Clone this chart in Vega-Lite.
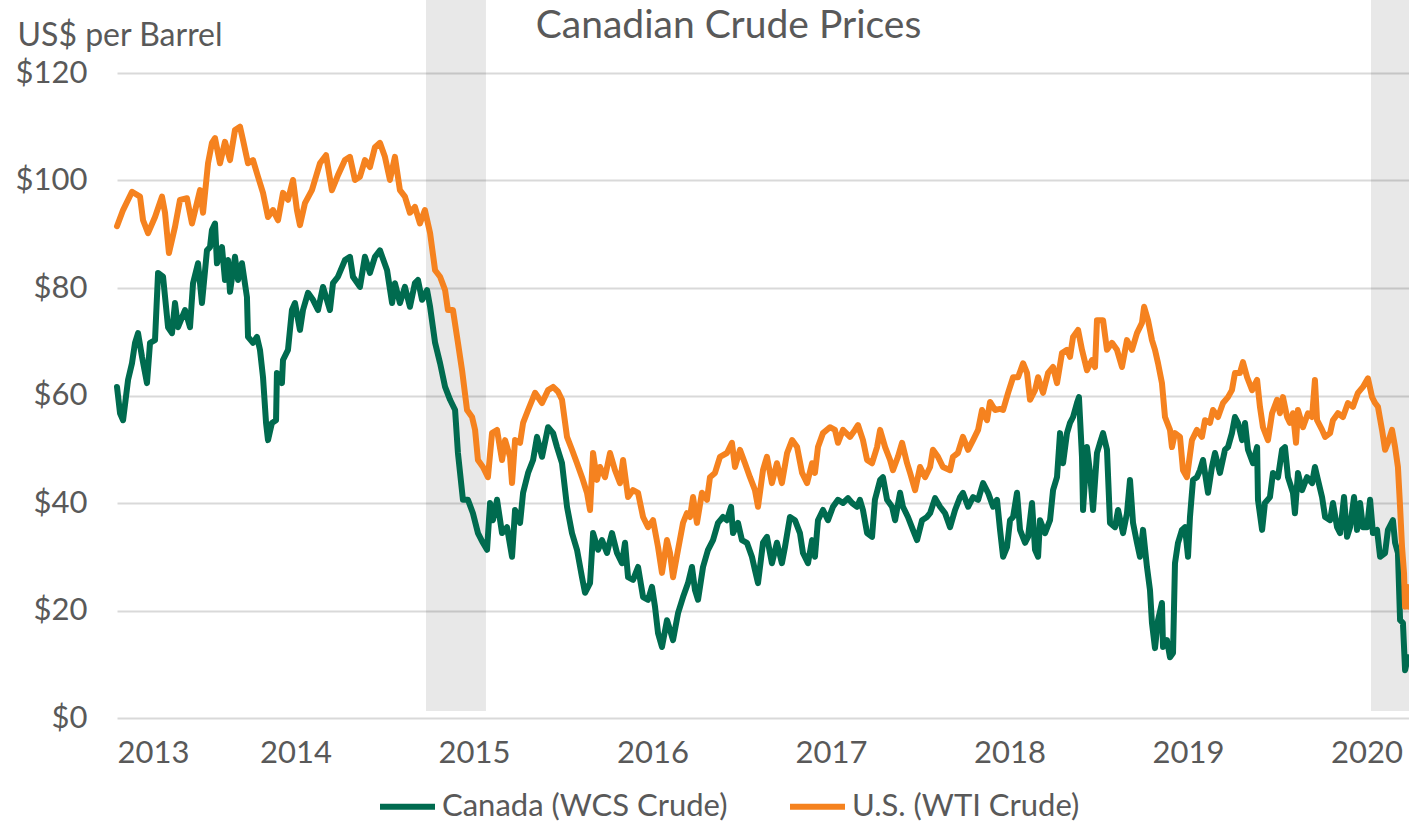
{
"$schema": "https://vega.github.io/schema/vega-lite/v6.json",
"width": 1292, "height": 645,
"autosize": {"type": "none"},
"padding": {"left": 117, "top": 73, "right": 0, "bottom": 107},
"background": "white",
"config": {"view": {"stroke": null}, "font": "Lato"},
"datasets": {
"bands": [{"start": 2014.731, "end": 2015.067}, {"start": 2020.025, "end": 2020.238}],
"wti": [
{"t":2013.000,"v":91.5},{"t":2013.034,"v":94.5},{"t":2013.084,"v":97.9},{"t":2013.129,"v":97},{"t":2013.146,"v":92.6},{"t":2013.174,"v":90.2},{"t":2013.213,"v":93.2},{"t":2013.252,"v":97},{"t":2013.269,"v":94},{"t":2013.291,"v":86.5},{"t":2013.325,"v":91.4},{"t":2013.353,"v":96.4},{"t":2013.392,"v":96.7},{"t":2013.420,"v":92},{"t":2013.465,"v":98.2},{"t":2013.482,"v":94},{"t":2013.510,"v":103.2},{"t":2013.532,"v":107},{"t":2013.549,"v":107.9},{"t":2013.577,"v":103.2},{"t":2013.605,"v":107.2},{"t":2013.633,"v":103.8},{"t":2013.661,"v":109.4},{"t":2013.689,"v":110},{"t":2013.706,"v":107.5},{"t":2013.734,"v":103.2},{"t":2013.762,"v":103.8},{"t":2013.790,"v":100.7},{"t":2013.818,"v":97.7},{"t":2013.846,"v":93.2},{"t":2013.874,"v":94.5},{"t":2013.902,"v":92.6},{"t":2013.930,"v":97.7},{"t":2013.958,"v":96.4},{"t":2013.986,"v":100.1},{"t":2014.008,"v":94.5},{"t":2014.025,"v":91.7},{"t":2014.053,"v":95.8},{"t":2014.092,"v":98.2},{"t":2014.137,"v":103.2},{"t":2014.171,"v":104.7},{"t":2014.204,"v":98.2},{"t":2014.238,"v":101},{"t":2014.277,"v":103.8},{"t":2014.305,"v":104.4},{"t":2014.333,"v":100.1},{"t":2014.361,"v":100.7},{"t":2014.389,"v":103.8},{"t":2014.417,"v":102.5},{"t":2014.445,"v":106.2},{"t":2014.473,"v":107},{"t":2014.501,"v":104.4},{"t":2014.529,"v":100.1},{"t":2014.557,"v":104.4},{"t":2014.585,"v":98.2},{"t":2014.613,"v":97},{"t":2014.641,"v":94},{"t":2014.669,"v":95.1},{"t":2014.697,"v":92},{"t":2014.725,"v":94.5},{"t":2014.754,"v":90.2},{"t":2014.782,"v":83.3},{"t":2014.810,"v":82.1},{"t":2014.838,"v":79.6},{"t":2014.854,"v":75.9},{"t":2014.882,"v":75.9},{"t":2014.910,"v":69.8},{"t":2014.933,"v":64.7},{"t":2014.961,"v":57.3},{"t":2014.989,"v":56},{"t":2015.006,"v":53.6},{"t":2015.022,"v":48},{"t":2015.050,"v":46.7},{"t":2015.078,"v":44.8},{"t":2015.101,"v":53},{"t":2015.129,"v":53.6},{"t":2015.157,"v":48},{"t":2015.174,"v":51.7},{"t":2015.202,"v":48.6},{"t":2015.213,"v":43.7},{"t":2015.230,"v":51.7},{"t":2015.258,"v":51.2},{"t":2015.275,"v":54.9},{"t":2015.303,"v":57.3},{"t":2015.342,"v":60.5},{"t":2015.381,"v":58.6},{"t":2015.415,"v":61},{"t":2015.443,"v":61.6},{"t":2015.471,"v":60.7},{"t":2015.493,"v":59.2},{"t":2015.521,"v":52.3},{"t":2015.549,"v":49.9},{"t":2015.577,"v":47.4},{"t":2015.605,"v":44.8},{"t":2015.633,"v":41.9},{"t":2015.650,"v":38.7},{"t":2015.667,"v":49.3},{"t":2015.689,"v":44.3},{"t":2015.706,"v":46.7},{"t":2015.734,"v":44.8},{"t":2015.762,"v":49.3},{"t":2015.790,"v":46.1},{"t":2015.818,"v":43.7},{"t":2015.835,"v":48},{"t":2015.863,"v":41.1},{"t":2015.891,"v":42.4},{"t":2015.919,"v":41.9},{"t":2015.947,"v":37.4},{"t":2015.975,"v":35.5},{"t":2016.003,"v":36.8},{"t":2016.031,"v":31.8},{"t":2016.053,"v":27},{"t":2016.081,"v":33.1},{"t":2016.098,"v":30.7},{"t":2016.115,"v":26.2},{"t":2016.143,"v":31.3},{"t":2016.171,"v":36.3},{"t":2016.193,"v":38.1},{"t":2016.210,"v":37.4},{"t":2016.227,"v":41.1},{"t":2016.249,"v":36.3},{"t":2016.277,"v":41.9},{"t":2016.305,"v":40.6},{"t":2016.322,"v":44.8},{"t":2016.350,"v":45.6},{"t":2016.378,"v":48.6},{"t":2016.417,"v":49.3},{"t":2016.445,"v":51.2},{"t":2016.462,"v":46.7},{"t":2016.490,"v":49.9},{"t":2016.518,"v":47.4},{"t":2016.546,"v":44.8},{"t":2016.574,"v":42.4},{"t":2016.591,"v":39.3},{"t":2016.619,"v":46.1},{"t":2016.641,"v":48.6},{"t":2016.669,"v":43.7},{"t":2016.697,"v":47.4},{"t":2016.725,"v":43.7},{"t":2016.754,"v":49.3},{"t":2016.782,"v":51.7},{"t":2016.810,"v":50.4},{"t":2016.838,"v":45.6},{"t":2016.866,"v":43.7},{"t":2016.894,"v":47.4},{"t":2016.910,"v":45.6},{"t":2016.927,"v":50.4},{"t":2016.955,"v":53},{"t":2016.994,"v":54.1},{"t":2017.022,"v":53.6},{"t":2017.039,"v":51.2},{"t":2017.067,"v":53.6},{"t":2017.106,"v":52.3},{"t":2017.134,"v":53.6},{"t":2017.151,"v":54.5},{"t":2017.179,"v":51.7},{"t":2017.202,"v":48},{"t":2017.230,"v":47.4},{"t":2017.258,"v":50.4},{"t":2017.275,"v":53.6},{"t":2017.303,"v":50.4},{"t":2017.331,"v":48},{"t":2017.347,"v":46.1},{"t":2017.375,"v":48.6},{"t":2017.398,"v":51.2},{"t":2017.426,"v":47.4},{"t":2017.443,"v":45.6},{"t":2017.471,"v":42.4},{"t":2017.499,"v":46.7},{"t":2017.527,"v":44.8},{"t":2017.555,"v":46.7},{"t":2017.571,"v":49.9},{"t":2017.599,"v":48.6},{"t":2017.627,"v":46.7},{"t":2017.667,"v":46.1},{"t":2017.683,"v":48.6},{"t":2017.711,"v":49.3},{"t":2017.739,"v":52.3},{"t":2017.768,"v":49.9},{"t":2017.796,"v":51.7},{"t":2017.824,"v":53.6},{"t":2017.846,"v":57.3},{"t":2017.874,"v":55.4},{"t":2017.891,"v":58.8},{"t":2017.919,"v":57.3},{"t":2017.947,"v":57.5},{"t":2017.964,"v":57.3},{"t":2017.992,"v":60.5},{"t":2018.020,"v":63.4},{"t":2018.048,"v":63.4},{"t":2018.076,"v":66},{"t":2018.098,"v":64.2},{"t":2018.115,"v":59.2},{"t":2018.143,"v":61},{"t":2018.160,"v":63.4},{"t":2018.188,"v":60.5},{"t":2018.216,"v":64.2},{"t":2018.244,"v":65.3},{"t":2018.266,"v":62.3},{"t":2018.294,"v":67.9},{"t":2018.322,"v":68.5},{"t":2018.339,"v":67.2},{"t":2018.356,"v":70.9},{"t":2018.384,"v":72.2},{"t":2018.406,"v":68.5},{"t":2018.434,"v":64.7},{"t":2018.462,"v":66.6},{"t":2018.479,"v":65.3},{"t":2018.490,"v":74},{"t":2018.524,"v":74},{"t":2018.546,"v":68.5},{"t":2018.574,"v":69.8},{"t":2018.602,"v":68.5},{"t":2018.630,"v":65.3},{"t":2018.658,"v":70.3},{"t":2018.686,"v":68.5},{"t":2018.714,"v":71.6},{"t":2018.742,"v":73.5},{"t":2018.754,"v":76.5},{"t":2018.776,"v":74},{"t":2018.798,"v":70.3},{"t":2018.815,"v":68.5},{"t":2018.832,"v":66},{"t":2018.854,"v":62.3},{"t":2018.871,"v":56},{"t":2018.899,"v":53.6},{"t":2018.910,"v":50.4},{"t":2018.927,"v":53},{"t":2018.955,"v":52.3},{"t":2018.972,"v":46.1},{"t":2018.994,"v":44.8},{"t":2019.022,"v":51.7},{"t":2019.050,"v":53.6},{"t":2019.078,"v":52.3},{"t":2019.095,"v":55.4},{"t":2019.123,"v":54.9},{"t":2019.140,"v":57.3},{"t":2019.168,"v":56},{"t":2019.196,"v":58.6},{"t":2019.224,"v":59.7},{"t":2019.246,"v":61},{"t":2019.263,"v":64.2},{"t":2019.291,"v":64.2},{"t":2019.308,"v":66.2},{"t":2019.331,"v":63.4},{"t":2019.359,"v":61},{"t":2019.387,"v":62.9},{"t":2019.403,"v":57.9},{"t":2019.420,"v":54.1},{"t":2019.448,"v":51.7},{"t":2019.471,"v":56.7},{"t":2019.499,"v":59.2},{"t":2019.515,"v":56.7},{"t":2019.532,"v":59.7},{"t":2019.555,"v":56},{"t":2019.571,"v":54.9},{"t":2019.588,"v":56.7},{"t":2019.605,"v":51.2},{"t":2019.616,"v":57.3},{"t":2019.644,"v":54.1},{"t":2019.672,"v":56.7},{"t":2019.695,"v":56},{"t":2019.711,"v":62.9},{"t":2019.723,"v":55.4},{"t":2019.751,"v":53.6},{"t":2019.768,"v":52.3},{"t":2019.796,"v":53},{"t":2019.812,"v":55.4},{"t":2019.840,"v":56.7},{"t":2019.868,"v":56},{"t":2019.896,"v":58.6},{"t":2019.924,"v":57.9},{"t":2019.952,"v":60.5},{"t":2019.980,"v":61.6},{"t":2020.008,"v":63.2},{"t":2020.031,"v":59.7},{"t":2020.048,"v":58.6},{"t":2020.064,"v":57.9},{"t":2020.087,"v":53.6},{"t":2020.104,"v":49.9},{"t":2020.120,"v":51.2},{"t":2020.143,"v":53.6},{"t":2020.160,"v":50.4},{"t":2020.176,"v":46.7},{"t":2020.188,"v":39.3},{"t":2020.199,"v":31.8},{"t":2020.210,"v":27},{"t":2020.216,"v":20.7},{"t":2020.227,"v":24.4},{"t":2020.238,"v":20.7}
],
"wcs": [
{"t":2013.000,"v":61.6},{"t":2013.017,"v":56.7},{"t":2013.034,"v":55.4},{"t":2013.062,"v":62.9},{"t":2013.084,"v":66},{"t":2013.101,"v":69.8},{"t":2013.118,"v":71.6},{"t":2013.140,"v":67.2},{"t":2013.168,"v":62.3},{"t":2013.185,"v":69.8},{"t":2013.213,"v":70.3},{"t":2013.230,"v":82.8},{"t":2013.258,"v":82.1},{"t":2013.286,"v":72.7},{"t":2013.308,"v":71.6},{"t":2013.325,"v":77.2},{"t":2013.342,"v":72.7},{"t":2013.381,"v":75.9},{"t":2013.409,"v":72.7},{"t":2013.426,"v":80.9},{"t":2013.454,"v":84.6},{"t":2013.476,"v":77.2},{"t":2013.504,"v":87},{"t":2013.521,"v":87.6},{"t":2013.532,"v":90.8},{"t":2013.549,"v":92},{"t":2013.560,"v":84.6},{"t":2013.588,"v":87.6},{"t":2013.605,"v":81.5},{"t":2013.622,"v":85.2},{"t":2013.633,"v":79.3},{"t":2013.661,"v":85.8},{"t":2013.678,"v":81.5},{"t":2013.700,"v":84.6},{"t":2013.728,"v":78.3},{"t":2013.734,"v":70.9},{"t":2013.762,"v":69.8},{"t":2013.784,"v":70.9},{"t":2013.801,"v":68.5},{"t":2013.818,"v":63.4},{"t":2013.835,"v":54.9},{"t":2013.846,"v":51.7},{"t":2013.868,"v":54.9},{"t":2013.891,"v":55.4},{"t":2013.896,"v":64.2},{"t":2013.924,"v":62.3},{"t":2013.930,"v":66.6},{"t":2013.958,"v":68.5},{"t":2013.980,"v":75.9},{"t":2013.997,"v":77.2},{"t":2014.025,"v":72.2},{"t":2014.042,"v":75.9},{"t":2014.070,"v":79.1},{"t":2014.098,"v":77.8},{"t":2014.126,"v":75.9},{"t":2014.154,"v":80.2},{"t":2014.193,"v":75.9},{"t":2014.210,"v":80.9},{"t":2014.238,"v":82.1},{"t":2014.277,"v":85.2},{"t":2014.305,"v":85.8},{"t":2014.322,"v":82.1},{"t":2014.361,"v":80.2},{"t":2014.389,"v":85.8},{"t":2014.417,"v":82.8},{"t":2014.445,"v":85.8},{"t":2014.473,"v":87},{"t":2014.513,"v":83.3},{"t":2014.541,"v":77.2},{"t":2014.557,"v":80.9},{"t":2014.585,"v":77.2},{"t":2014.613,"v":80.2},{"t":2014.641,"v":76.5},{"t":2014.669,"v":80.9},{"t":2014.686,"v":81.5},{"t":2014.709,"v":77.8},{"t":2014.737,"v":79.6},{"t":2014.754,"v":76.5},{"t":2014.782,"v":69.8},{"t":2014.810,"v":66},{"t":2014.838,"v":61.6},{"t":2014.866,"v":59.2},{"t":2014.894,"v":57.3},{"t":2014.910,"v":49.3},{"t":2014.938,"v":40.6},{"t":2014.966,"v":40.6},{"t":2014.994,"v":38.1},{"t":2015.022,"v":34.4},{"t":2015.050,"v":32.6},{"t":2015.073,"v":31.3},{"t":2015.090,"v":40},{"t":2015.106,"v":36.8},{"t":2015.129,"v":40.6},{"t":2015.157,"v":34.4},{"t":2015.185,"v":35.5},{"t":2015.213,"v":30},{"t":2015.230,"v":38.7},{"t":2015.258,"v":36.3},{"t":2015.275,"v":41.9},{"t":2015.303,"v":45.6},{"t":2015.331,"v":48},{"t":2015.353,"v":52.3},{"t":2015.381,"v":48.6},{"t":2015.415,"v":54.1},{"t":2015.443,"v":53},{"t":2015.465,"v":50.4},{"t":2015.493,"v":47.4},{"t":2015.521,"v":39.3},{"t":2015.549,"v":34.4},{"t":2015.577,"v":31.3},{"t":2015.605,"v":26.2},{"t":2015.622,"v":23.3},{"t":2015.650,"v":25.1},{"t":2015.667,"v":34.4},{"t":2015.695,"v":31.3},{"t":2015.717,"v":33.1},{"t":2015.745,"v":30.7},{"t":2015.773,"v":34.4},{"t":2015.801,"v":30.7},{"t":2015.829,"v":28.8},{"t":2015.846,"v":32.6},{"t":2015.863,"v":26.2},{"t":2015.891,"v":25.7},{"t":2015.919,"v":28.1},{"t":2015.947,"v":22.5},{"t":2015.975,"v":22},{"t":2015.997,"v":24.4},{"t":2016.014,"v":20.7},{"t":2016.031,"v":15.8},{"t":2016.053,"v":13.2},{"t":2016.081,"v":18.2},{"t":2016.098,"v":16.4},{"t":2016.115,"v":14.5},{"t":2016.143,"v":19.5},{"t":2016.171,"v":22.5},{"t":2016.199,"v":25.1},{"t":2016.221,"v":28.1},{"t":2016.238,"v":23.8},{"t":2016.255,"v":22},{"t":2016.283,"v":28.1},{"t":2016.311,"v":31.3},{"t":2016.339,"v":33.1},{"t":2016.367,"v":36.3},{"t":2016.395,"v":37.4},{"t":2016.417,"v":36.8},{"t":2016.440,"v":39.3},{"t":2016.451,"v":34.4},{"t":2016.479,"v":36.3},{"t":2016.501,"v":33.1},{"t":2016.529,"v":32.6},{"t":2016.557,"v":30},{"t":2016.574,"v":27.5},{"t":2016.591,"v":25.1},{"t":2016.619,"v":32.6},{"t":2016.641,"v":33.7},{"t":2016.669,"v":28.8},{"t":2016.697,"v":32.6},{"t":2016.725,"v":28.8},{"t":2016.742,"v":31.8},{"t":2016.770,"v":37.4},{"t":2016.798,"v":36.8},{"t":2016.826,"v":34.4},{"t":2016.843,"v":30.7},{"t":2016.871,"v":28.8},{"t":2016.894,"v":33.1},{"t":2016.910,"v":30},{"t":2016.927,"v":36.8},{"t":2016.955,"v":38.7},{"t":2016.983,"v":36.8},{"t":2017.011,"v":39.3},{"t":2017.039,"v":40.6},{"t":2017.067,"v":40},{"t":2017.095,"v":40.9},{"t":2017.118,"v":40},{"t":2017.146,"v":39.3},{"t":2017.162,"v":40.6},{"t":2017.179,"v":38.7},{"t":2017.202,"v":34.4},{"t":2017.230,"v":33.7},{"t":2017.246,"v":40.6},{"t":2017.275,"v":44.3},{"t":2017.291,"v":44.8},{"t":2017.314,"v":40.6},{"t":2017.342,"v":39.3},{"t":2017.359,"v":36.8},{"t":2017.387,"v":41.9},{"t":2017.403,"v":39.3},{"t":2017.431,"v":37.4},{"t":2017.459,"v":35},{"t":2017.482,"v":33.1},{"t":2017.510,"v":36.8},{"t":2017.538,"v":37.4},{"t":2017.555,"v":38.1},{"t":2017.583,"v":40.9},{"t":2017.611,"v":39.3},{"t":2017.639,"v":38.1},{"t":2017.667,"v":35.5},{"t":2017.695,"v":38.7},{"t":2017.723,"v":41.1},{"t":2017.739,"v":41.9},{"t":2017.768,"v":39.3},{"t":2017.796,"v":41.1},{"t":2017.824,"v":40.6},{"t":2017.852,"v":43.7},{"t":2017.880,"v":41.9},{"t":2017.908,"v":39.3},{"t":2017.930,"v":40.6},{"t":2017.947,"v":35},{"t":2017.964,"v":30},{"t":2017.986,"v":31.8},{"t":2018.003,"v":36.8},{"t":2018.020,"v":37.4},{"t":2018.042,"v":41.9},{"t":2018.059,"v":35},{"t":2018.087,"v":32.6},{"t":2018.104,"v":33.7},{"t":2018.126,"v":40},{"t":2018.143,"v":31.3},{"t":2018.160,"v":30},{"t":2018.171,"v":36.8},{"t":2018.199,"v":34.4},{"t":2018.227,"v":36.8},{"t":2018.244,"v":42.4},{"t":2018.266,"v":44.8},{"t":2018.283,"v":53},{"t":2018.300,"v":47.4},{"t":2018.322,"v":53},{"t":2018.339,"v":54.9},{"t":2018.356,"v":56},{"t":2018.378,"v":58.6},{"t":2018.389,"v":59.7},{"t":2018.406,"v":48.6},{"t":2018.412,"v":38.7},{"t":2018.434,"v":50.4},{"t":2018.451,"v":45.6},{"t":2018.468,"v":38.7},{"t":2018.490,"v":49.3},{"t":2018.507,"v":51.2},{"t":2018.524,"v":53},{"t":2018.546,"v":49.9},{"t":2018.563,"v":36.3},{"t":2018.591,"v":35.5},{"t":2018.608,"v":38.7},{"t":2018.636,"v":34.4},{"t":2018.658,"v":38.1},{"t":2018.675,"v":44.3},{"t":2018.692,"v":36.3},{"t":2018.714,"v":32.6},{"t":2018.731,"v":30},{"t":2018.748,"v":35},{"t":2018.770,"v":28.1},{"t":2018.787,"v":23.8},{"t":2018.798,"v":17.7},{"t":2018.815,"v":13},{"t":2018.832,"v":18.2},{"t":2018.854,"v":21.4},{"t":2018.860,"v":13.2},{"t":2018.882,"v":14.5},{"t":2018.899,"v":11.3},{"t":2018.916,"v":12.1},{"t":2018.927,"v":28.8},{"t":2018.944,"v":32.6},{"t":2018.966,"v":35},{"t":2018.983,"v":35.5},{"t":2019.000,"v":30},{"t":2019.011,"v":37.4},{"t":2019.028,"v":44.3},{"t":2019.050,"v":44.8},{"t":2019.067,"v":46.1},{"t":2019.084,"v":48},{"t":2019.112,"v":41.9},{"t":2019.134,"v":46.7},{"t":2019.151,"v":49.3},{"t":2019.179,"v":45.6},{"t":2019.207,"v":49.9},{"t":2019.224,"v":50.4},{"t":2019.246,"v":53},{"t":2019.263,"v":56},{"t":2019.280,"v":54.9},{"t":2019.303,"v":51.7},{"t":2019.319,"v":54.9},{"t":2019.336,"v":49.9},{"t":2019.364,"v":47.4},{"t":2019.387,"v":50.4},{"t":2019.392,"v":40.6},{"t":2019.415,"v":35},{"t":2019.431,"v":40},{"t":2019.459,"v":41.1},{"t":2019.476,"v":45.6},{"t":2019.504,"v":44.8},{"t":2019.527,"v":49.9},{"t":2019.543,"v":50.4},{"t":2019.560,"v":44.8},{"t":2019.588,"v":41.9},{"t":2019.599,"v":38.1},{"t":2019.616,"v":45.6},{"t":2019.639,"v":42.4},{"t":2019.667,"v":44.8},{"t":2019.695,"v":43.7},{"t":2019.711,"v":46.7},{"t":2019.728,"v":44.3},{"t":2019.751,"v":41.1},{"t":2019.768,"v":37.4},{"t":2019.796,"v":36.8},{"t":2019.812,"v":40},{"t":2019.835,"v":35.5},{"t":2019.852,"v":34.4},{"t":2019.874,"v":41.1},{"t":2019.891,"v":33.7},{"t":2019.908,"v":35.5},{"t":2019.930,"v":41.1},{"t":2019.947,"v":35},{"t":2019.964,"v":40},{"t":2019.980,"v":35.5},{"t":2020.003,"v":35.5},{"t":2020.020,"v":40.6},{"t":2020.036,"v":34.4},{"t":2020.059,"v":35},{"t":2020.076,"v":30},{"t":2020.104,"v":30.7},{"t":2020.120,"v":35},{"t":2020.148,"v":36.8},{"t":2020.160,"v":32.6},{"t":2020.176,"v":30.7},{"t":2020.188,"v":18.2},{"t":2020.204,"v":17.7},{"t":2020.216,"v":8.9},{"t":2020.232,"v":11.3}
]
},
"resolve": {"axis": {"x": "independent"}},
"layer": [
{
"data": {"name": "bands"},
"mark": {"type": "rect", "color": "#000000", "opacity": 0.09},
"encoding": {
"x": {"field": "start", "type": "quantitative", "scale": {"domain": [2013, 2020.238], "nice": false, "zero": false},
 "axis": {"orient": "bottom", "values": [2013, 2014, 2015, 2016, 2017, 2018, 2019, 2020], "format": "d", "title": null, "grid": false, "ticks": false, "domain": false, "labelFontSize": 31, "labelColor": "#595959", "labelPadding": 20, "labelFont": "Lato"}},
"x2": {"field": "end"},
"y": {"datum": 1.3, "type": "quantitative", "scale": {"domain": [0, 120], "nice": false},
 "axis": {"values": [0, 20, 40, 60, 80, 100, 120], "labelExpr": "'$' + datum.value", "grid": true, "gridColor": "#D9D9D9", "gridWidth": 2, "ticks": false, "domain": false, "labelFontSize": 31, "labelColor": "#595959", "labelPadding": 30, "labelFont": "Lato", "title": "US$ per Barrel", "titleAngle": 0, "titleX": -100, "titleY": -38, "titleAlign": "left", "titleBaseline": "middle", "titleFontSize": 32, "titleFontWeight": "normal", "titleColor": "#595959", "titleFont": "Lato"}},
"y2": {"datum": 133.6}
}
},
{
"data": {"name": "wcs"},
"mark": {"type": "line", "strokeWidth": 6, "strokeJoin": "round", "strokeCap": "round"},
"encoding": {
"x": {"field": "t", "type": "quantitative", "axis": null},
"y": {"field": "v", "type": "quantitative"},
"color": {"datum": "Canada (WCS Crude)", "type": "nominal",
 "scale": {"domain": ["Canada (WCS Crude)", "U.S. (WTI Crude)"], "range": ["#006B4F", "#F5821F"]},
 "legend": {"orient": "none", "legendX": 260, "legendY": 703, "direction": "horizontal", "title": null, "symbolType": "stroke", "symbolSize": 3025, "symbolStrokeWidth": 6, "labelFontSize": 31, "labelFont": "Lato", "labelColor": "#595959", "labelOffset": 4, "columnPadding": 50, "labelLimit": 500}}
}
},
{
"data": {"name": "wti"},
"mark": {"type": "line", "strokeWidth": 6, "strokeJoin": "round", "strokeCap": "round"},
"encoding": {
"x": {"field": "t", "type": "quantitative",
 "axis": {"orient": "top", "labels": false, "ticks": false, "domain": false, "grid": false, "title": "Canadian Crude Prices", "titleX": 611, "titleY": -36, "titleAlign": "center", "titleBaseline": "alphabetic", "titleFontSize": 39, "titleFontWeight": "normal", "titleColor": "#595959", "titleFont": "Lato"}},
"y": {"field": "v", "type": "quantitative"},
"color": {"datum": "U.S. (WTI Crude)", "type": "nominal"}
}
}
]
}
